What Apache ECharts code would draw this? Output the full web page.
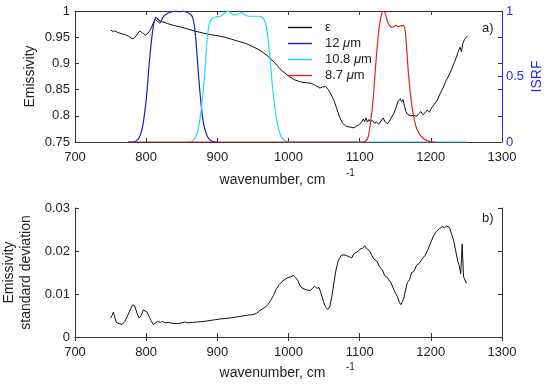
<!DOCTYPE html>
<html>
<head>
<meta charset="utf-8">
<script src="https://cdn.jsdelivr.net/npm/echarts@6/dist/echarts.min.js"></script>
<style>
html,body{margin:0;padding:0;background:#fff;}
#c{width:550px;height:386px;}
</style>
</head>
<body>
<div id="c"></div>
<script>
// ---------- data ----------
const xTicks = [700, 800, 900, 1000, 1100, 1200, 1300];

const emisWn = [750,753,756,760,765,770,775,780,783,787,791,795,799,803,807,810,813,816,819,822,830,840,850,860,870,880,890,900,910,920,930,940,950,960,970,980,990,1000,1008,1016,1025,1032,1038,1044,1048,1052,1056,1060,1064,1068,1072,1076,1080,1084,1088,1092,1095,1098,1100,1103,1105,1107,1109,1111,1113,1115,1118,1121,1124,1127,1130,1133,1136,1139,1142,1145,1148,1151,1154,1157,1159,1161,1163,1165,1168,1172,1176,1180,1183,1186,1189,1192,1195,1198,1201,1205,1209,1213,1217,1221,1225,1229,1233,1236,1239,1241,1243,1245,1247,1249,1251];
const emisVal = [0.964,0.961,0.962,0.959,0.957,0.955,0.952,0.947,0.948,0.955,0.962,0.958,0.954,0.958,0.967,0.977,0.984,0.980,0.977,0.980,0.976,0.972,0.969,0.965,0.961,0.958,0.955,0.953,0.950,0.946,0.942,0.938,0.932,0.925,0.915,0.902,0.887,0.876,0.869,0.865,0.863,0.862,0.858,0.853,0.855,0.856,0.850,0.840,0.829,0.813,0.797,0.786,0.781,0.779,0.778,0.777,0.780,0.782,0.779,0.788,0.794,0.789,0.796,0.788,0.793,0.789,0.791,0.786,0.788,0.784,0.790,0.796,0.788,0.785,0.790,0.798,0.804,0.815,0.828,0.832,0.827,0.831,0.818,0.808,0.802,0.800,0.801,0.799,0.804,0.808,0.802,0.806,0.811,0.807,0.815,0.822,0.830,0.842,0.853,0.866,0.876,0.888,0.902,0.912,0.925,0.931,0.922,0.938,0.945,0.948,0.952];

const srf12Wn = [775,780,785,790,795,800,804,808,811,814,817,820,824,828,834,840,846,852,857,862,865,868,871,874,877,880,884,888,893,900];
const srf12Val = [0,0,0.005,0.03,0.12,0.32,0.58,0.80,0.91,0.95,0.935,0.92,0.955,0.975,0.99,1.0,0.995,1.0,0.99,0.975,0.955,0.88,0.70,0.48,0.30,0.16,0.07,0.025,0.005,0];

const srf108Wn = [860,866,872,876,880,883,886,889,893,898,904,910,915,919,923,928,934,939,944,950,957,962,965,968,971,974,977,980,983,987,991,996,1000,1250];
const srf108Val = [0,0.01,0.07,0.19,0.38,0.575,0.80,0.91,0.945,0.955,0.96,0.985,0.998,0.985,0.97,0.975,0.985,0.97,0.96,0.96,0.96,0.955,0.94,0.90,0.80,0.64,0.45,0.30,0.18,0.08,0.03,0.008,0,0];

const srf87Wn = [775,1100,1108,1112,1116,1119,1122,1125,1128,1131,1133,1136,1139,1142,1145,1148,1151,1154,1157,1160,1163,1165,1168,1171,1175,1179,1183,1190,1198,1205,1208];
const srf87Val = [0,0,0.005,0.04,0.18,0.33,0.55,0.75,0.90,0.98,0.998,0.98,0.92,0.89,0.875,0.88,0.89,0.88,0.885,0.89,0.875,0.80,0.56,0.38,0.22,0.12,0.07,0.025,0.005,0,0];

const sdWn = [750,752,754,756,758,762,766,770,774,778,781,784,787,790,793,796,798,801,804,807,810,813,816,820,823,827,831,836,842,848,854,858,865,872,880,888,896,904,912,920,928,936,944,950,955,960,966,971,975,979,983,987,991,995,999,1003,1007,1010,1013,1016,1019,1023,1027,1031,1034,1037,1040,1043,1046,1049,1052,1055,1058,1061,1064,1067,1070,1074,1078,1082,1086,1089,1092,1095,1098,1101,1104,1107,1109,1111,1114,1117,1120,1124,1128,1132,1135,1138,1141,1144,1147,1150,1153,1156,1158,1160,1162,1164,1167,1170,1173,1176,1180,1184,1188,1192,1196,1200,1204,1208,1212,1216,1219,1222,1226,1229,1232,1235,1238,1240,1242,1244,1246,1248,1250];
const sdVal = [0.0044,0.0050,0.0058,0.0045,0.0034,0.0031,0.0029,0.0036,0.0050,0.0065,0.0075,0.0072,0.0056,0.0044,0.0050,0.0063,0.0066,0.0058,0.0048,0.0038,0.0029,0.0033,0.0036,0.0034,0.0036,0.0033,0.0034,0.0032,0.0031,0.0032,0.0035,0.0033,0.0034,0.0035,0.0036,0.0038,0.0040,0.0042,0.0043,0.0045,0.0047,0.0049,0.0051,0.0052,0.0055,0.0062,0.0068,0.0075,0.0085,0.0097,0.0112,0.0122,0.0129,0.0134,0.0138,0.0140,0.0143,0.0138,0.0132,0.0120,0.0114,0.0111,0.0109,0.0108,0.0114,0.0118,0.0113,0.0115,0.0100,0.0083,0.0070,0.0064,0.0070,0.0095,0.0128,0.0158,0.0178,0.0190,0.0191,0.0189,0.0186,0.0184,0.0194,0.0197,0.0199,0.0205,0.0206,0.0212,0.0207,0.0209,0.0200,0.0190,0.0181,0.0177,0.0163,0.0156,0.0143,0.0140,0.0133,0.0126,0.0114,0.0103,0.0094,0.0080,0.0075,0.0082,0.0090,0.0106,0.0127,0.0133,0.0150,0.0152,0.0167,0.0172,0.0182,0.0190,0.0204,0.0220,0.0236,0.0246,0.0252,0.0257,0.0254,0.0258,0.0255,0.0240,0.0225,0.0200,0.0175,0.0166,0.0147,0.0216,0.0140,0.0136,0.0125];

const seriesNames = ['ε', '12 μm', '10.8 μm', '8.7 μm'];

// ---------- chart ----------
const pairs = (xs, ys) => xs.map((x, i) => [x, ys[i]]);
const FONT = 'Liberation Sans';
const AX = '#333';
const BLUE = '#2a2ae6';
const plain = v => String(Math.round(v * 10000) / 10000);

function xAx(grid, pos, labels, extra) {
  return Object.assign({
    type: 'value', gridIndex: grid, position: pos, min: xTicks[0], max: xTicks[xTicks.length - 1], interval: 100,
    axisLine: {show: true, lineStyle: {color: AX, width: 1}},
    axisTick: {show: true, inside: true, length: 4, lineStyle: {color: AX}},
    axisLabel: {show: labels, color: '#222', fontSize: 13, fontFamily: FONT, margin: 9, formatter: plain},
    splitLine: {show: false}, nameMoveOverlap: false
  }, extra || {});
}
function yAx(grid, pos, min, max, interval, labels, extra) {
  return Object.assign({
    type: 'value', gridIndex: grid, position: pos, min: min, max: max, interval: interval,
    axisLine: {show: true, lineStyle: {color: AX, width: 1}},
    axisTick: {show: true, inside: true, length: 4, lineStyle: {color: AX}},
    axisLabel: {show: labels, color: '#222', fontSize: 13, fontFamily: FONT, margin: 5, formatter: plain},
    splitLine: {show: false}, nameMoveOverlap: false
  }, extra || {});
}

const chart = echarts.init(document.getElementById('c'), null, {renderer: 'canvas'});
const nameStyleX = {color: '#222', fontSize: 14, fontFamily: FONT, padding: [0, 32, 0, 0]};

chart.setOption({
  animation: false,
  backgroundColor: '#fff',
  textStyle: {fontFamily: FONT},
  grid: [
    {left: 75, right: 48, top: 11, height: 131, containLabel: false, outerBoundsMode: 'none'},
    {left: 75, right: 48, top: 208, height: 129, containLabel: false, outerBoundsMode: 'none'}
  ],
  xAxis: [
    xAx(0, 'bottom', true, {name: 'wavenumber, cm', nameLocation: 'middle', nameGap: 31, nameTextStyle: nameStyleX}),
    xAx(0, 'top', false),
    xAx(1, 'bottom', true, {name: 'wavenumber, cm', nameLocation: 'middle', nameGap: 29, nameTextStyle: nameStyleX}),
    xAx(1, 'top', false)
  ],
  yAxis: [
    yAx(0, 'left', 0.75, 1, 0.05, true, {name: 'Emissivity', nameLocation: 'middle', nameGap: 38,
      nameTextStyle: {color: '#222', fontSize: 14, fontFamily: FONT}}),
    yAx(0, 'right', 0, 1, 0.5, true, {
      name: 'ISRF', nameLocation: 'middle', nameGap: 28,
      nameTextStyle: {color: BLUE, fontSize: 14, fontFamily: FONT},
      axisLine: {show: true, lineStyle: {color: BLUE, width: 1}},
      axisTick: {show: true, inside: true, length: 4, lineStyle: {color: BLUE}},
      axisLabel: {show: true, color: BLUE, fontSize: 13, fontFamily: FONT, margin: 4, formatter: plain}
    }),
    yAx(0, 'right', 0.75, 1, 0.05, false, {axisLine: {show: false}}),
    yAx(1, 'left', 0, 0.03, 0.01, true, {name: 'Emissivity\nstandard deviation', nameLocation: 'middle', nameGap: 40,
      nameTextStyle: {color: '#222', fontSize: 14, fontFamily: FONT, lineHeight: 17}}),
    yAx(1, 'right', 0, 0.03, 0.01, false)
  ],
  legend: {
    orient: 'vertical', left: 283, top: 16, itemWidth: 24, itemHeight: 1.4, itemGap: 3,
    icon: 'rect',
    data: seriesNames,
    textStyle: {color: '#222', fontSize: 13, fontFamily: FONT, padding: [0, 0, 0, 8], lineHeight: 13,
      rich: {i: {fontStyle: 'italic', fontSize: 13, fontFamily: FONT, color: '#222', lineHeight: 13}}},
    formatter: function (n) { return n.replace('μ', '{i|μ}'); }
  },
  series: [
    {name: seriesNames[0], type: 'line', xAxisIndex: 0, yAxisIndex: 0, data: pairs(emisWn, emisVal),
      symbol: 'none', color: '#111', lineStyle: {color: '#111', width: 1}},
    {name: seriesNames[1], type: 'line', xAxisIndex: 0, yAxisIndex: 1, data: pairs(srf12Wn, srf12Val),
      symbol: 'none', smooth: 0.3, color: '#1c1cc4', lineStyle: {color: '#1c1cc4', width: 1.2}},
    {name: seriesNames[2], type: 'line', xAxisIndex: 0, yAxisIndex: 1, data: pairs(srf108Wn, srf108Val),
      symbol: 'none', smooth: 0.3, color: '#22dcf0', lineStyle: {color: '#22dcf0', width: 1.2}},
    {name: seriesNames[3], type: 'line', xAxisIndex: 0, yAxisIndex: 1, data: pairs(srf87Wn, srf87Val),
      symbol: 'none', smooth: 0.3, color: '#d82828', lineStyle: {color: '#d82828', width: 1.2}},
    {name: 'sd', type: 'line', xAxisIndex: 2, yAxisIndex: 3, data: pairs(sdWn, sdVal),
      symbol: 'none', color: '#111', lineStyle: {color: '#111', width: 1}}
  ],
  graphic: [
    {type: 'text', left: 346, top: 168, style: {text: '-1', fontSize: 10, fontFamily: FONT, fill: '#222'}},
    {type: 'text', left: 346, top: 362, style: {text: '-1', fontSize: 10, fontFamily: FONT, fill: '#222'}},
    {type: 'text', left: 482, top: 22, style: {text: 'a)', fontSize: 13, fontFamily: FONT, fill: '#222'}},
    {type: 'text', left: 482, top: 212, style: {text: 'b)', fontSize: 13, fontFamily: FONT, fill: '#222'}}
  ]
});
</script>
</body>
</html>
